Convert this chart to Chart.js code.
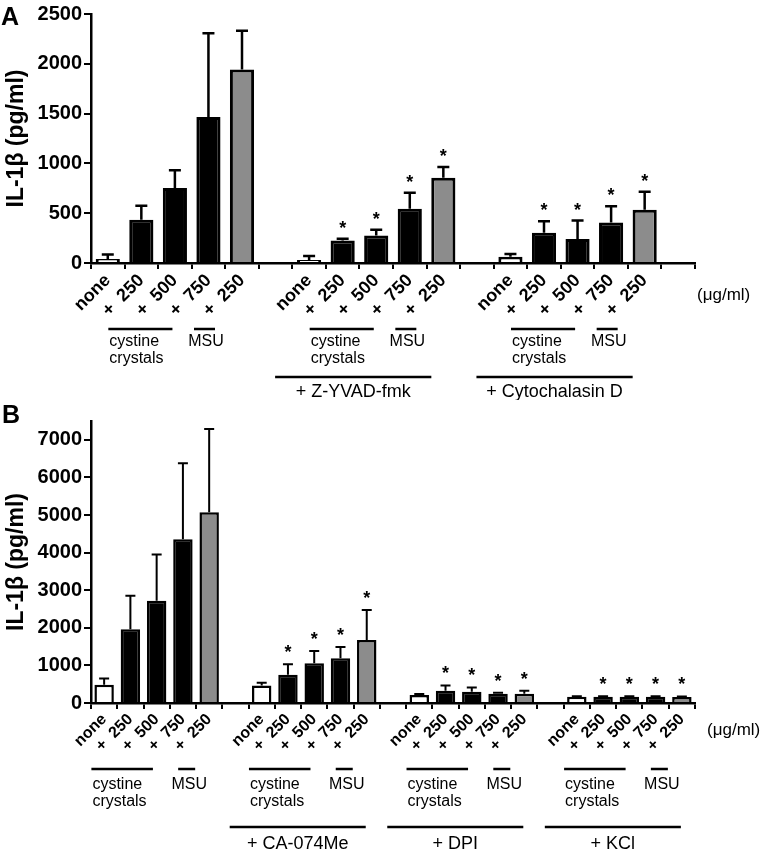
<!DOCTYPE html>
<html>
<head>
<meta charset="utf-8">
<script src="https://cdn.jsdelivr.net/npm/chart.js@4.4.0/dist/chart.umd.min.js"></script>
<style>
  body { margin: 0; background: #fff; }
  .panel { position: absolute; left: 0; width: 768px; }
  #wrapA { top: 0; height: 400px; }
  #wrapB { top: 400px; height: 450px; }
</style>
</head>
<body>
<div class="panel" id="wrapA"><canvas id="chartA" width="768" height="400"></canvas></div>
<div class="panel" id="wrapB"><canvas id="chartB" width="768" height="450"></canvas></div>
<script>
// Tick labels under each bar (a "+" rotated 45deg reads as "x")
const doseLabels = ['none', '+  250', '+  500', '+  750', '+  250'];
const unitLabel = '(\u03bcg/ml)';

// Panel A
const treatmentsA = ['', '+ Z-YVAD-fmk', '+ Cytochalasin D'];
const meanA = [40, 435, 752, 1465, 1944, null,
               30, 225, 277, 545, 855, null,
               62, 304, 240, 406, 535, null];
const semA  = [45, 140, 178, 842, 389, null,
               40, 18, 56, 161, 109, null,
               28, 116, 186, 165, 181, null];
const starA = [0, 0, 0, 0, 0, 0,
               0, 1, 1, 1, 1, 0,
               0, 1, 1, 1, 1, 0];
const yTicksA = [0, 500, 1000, 1500, 2000, 2500];

// Panel B
const treatmentsB = ['', '+ CA-074Me', '+ DPI', '+ KCl'];
const meanB = [485, 1960, 2720, 4354, 5070, null,
               467, 750, 1060, 1192, 1677, null,
               212, 326, 300, 246, 246, null,
               165, 165, 165, 165, 160];
const semB  = [167, 890, 1230, 2022, 2218, null,
               71, 283, 326, 300, 795, null,
               25, 141, 114, 27, 80, null,
               15, 15, 15, 15, 15];
const starB = [0, 0, 0, 0, 0, 0,
               0, 1, 1, 1, 1, 0,
               0, 1, 1, 1, 1, 0,
               0, 1, 1, 1, 1];
const yTicksB = [0, 1000, 2000, 3000, 4000, 5000, 6000, 7000];

const FONT = "'Liberation Sans', Arial, sans-serif";
const doseFills = ['#ffffff', '#000000', '#000000', '#000000', '#8c8c8c'];

function buildLabels(nGroups, trailingGap) {
    const out = [];
    for (let g = 0; g < nGroups; g++) {
        doseLabels.forEach(l => out.push(l));
        if (g < nGroups - 1 || trailingGap) out.push('');
    }
    return out;
}

// error bars, stars, brackets and text under the axis
function extrasPlugin(o) {
    return {
        id: 'extras',
        afterDatasetsDraw(chart) {
            const ctx = chart.ctx, x = chart.scales.x, y = chart.scales.y;
            ctx.save();
            ctx.strokeStyle = '#000';
            ctx.fillStyle = '#000';
            ctx.lineWidth = o.errWidth;
            o.mean.forEach((m, i) => {
                if (m == null) return;
                const px = x.getPixelForValue(i);
                const base = y.getPixelForValue(m);
                const top = y.getPixelForValue(m + o.sem[i]);
                ctx.beginPath();
                ctx.moveTo(px, base);
                ctx.lineTo(px, top);
                ctx.moveTo(px - o.cap, top);
                ctx.lineTo(px + o.cap, top);
                ctx.stroke();
                if (o.star[i]) {
                    ctx.font = 'bold 18px ' + FONT;
                    ctx.textAlign = 'center';
                    ctx.textBaseline = 'alphabetic';
                    ctx.fillText('*', px, top - o.starGap);
                }
            });
            ctx.restore();
        },
        afterDraw(chart) {
            const ctx = chart.ctx, x = chart.scales.x;
            const b = o.br;
            ctx.save();
            ctx.strokeStyle = '#000';
            ctx.fillStyle = '#000';
            ctx.textBaseline = 'alphabetic';
            o.treatments.forEach((name, g) => {
                const s = g * 6;
                const t = k => x.getPixelForValue(s + k);
                ctx.lineWidth = 2.5;
                ctx.beginPath();
                ctx.moveTo(t(1) + b.cysFrom, b.lineY);
                ctx.lineTo(t(3) + b.cysTo, b.lineY);
                ctx.moveTo(t(4) + b.msuFrom, b.lineY);
                ctx.lineTo(t(4) + b.msuTo, b.lineY);
                ctx.stroke();
                ctx.font = b.smallFont + 'px ' + FONT;
                ctx.textAlign = 'left';
                ctx.fillText('cystine', t(1) + b.cysText, b.text1Y);
                ctx.fillText('crystals', t(1) + b.cysText, b.text2Y);
                ctx.textAlign = 'center';
                ctx.fillText('MSU', t(4) + b.msuText, b.text1Y);
                if (name) {
                    const x0 = t(0) + b.grpFrom, x1 = t(4) + b.grpTo;
                    ctx.lineWidth = 2.5;
                    ctx.beginPath();
                    ctx.moveTo(x0, b.grpY);
                    ctx.lineTo(x1, b.grpY);
                    ctx.stroke();
                    ctx.font = b.grpFont + 'px ' + FONT;
                    ctx.fillText(name, (x0 + x1) / 2, b.grpTextY);
                }
            });
            ctx.textAlign = 'left';
            ctx.font = '17px ' + FONT;
            ctx.fillText(unitLabel, o.unit[0], o.unit[1]);
            ctx.font = 'bold 25px ' + FONT;
            ctx.fillText(o.tag, o.tagPos[0], o.tagPos[1]);
            ctx.restore();
        }
    };
}

function makeChart(id, c) {
    return new Chart(document.getElementById(id), {
        type: 'bar',
        data: {
            labels: c.labels,
            datasets: [{
                data: c.mean,
                backgroundColor: ctx => doseFills[ctx.dataIndex % 6] || '#000',
                borderColor: '#000',
                borderWidth: c.border,
                barPercentage: c.barPct,
                categoryPercentage: 1
            }]
        },
        options: {
            responsive: false,
            animation: false,
            layout: { padding: { top: c.padTop, left: 0, right: 768 - 695, bottom: 0 } },
            plugins: { legend: { display: false }, tooltip: { enabled: false } },
            scales: {
                x: {
                    offset: true,
                    grid: { drawOnChartArea: false, drawTicks: true, tickLength: 6, color: '#000', lineWidth: 2 },
                    border: { color: '#000', width: 2.5 },
                    ticks: {
                        color: '#000', autoSkip: false, minRotation: 45, maxRotation: 45, padding: 1,
                        font: { family: FONT, size: c.xFont, weight: 'bold' }
                    },
                    afterFit: s => { s.height = c.xHeight; }
                },
                y: {
                    min: 0,
                    max: c.max,
                    grid: { drawOnChartArea: false, drawTicks: true, tickLength: 7, color: '#000', lineWidth: 2 },
                    border: { color: '#000', width: 2.5 },
                    ticks: {
                        color: '#000', padding: 2,
                        font: { family: FONT, size: 20, weight: 'bold' },
                        callback: v => String(v)
                    },
                    title: {
                        display: true, text: 'IL-1\u03b2 (pg/ml)', color: '#000',
                        font: { family: FONT, size: 23, weight: 'bold' },
                        padding: { top: 3, bottom: 0 }
                    },
                    afterBuildTicks: s => { s.ticks = c.yTicks.map(v => ({ value: v })); },
                    afterFit: s => { s.width = 91; }
                }
            }
        },
        plugins: [extrasPlugin(c)]
    });
}

makeChart('chartA', {
    labels: buildLabels(3, true), mean: meanA, sem: semA, star: starA,
    yTicks: yTicksA, max: 2500, treatments: treatmentsA,
    padTop: 10, xHeight: 137, xFont: 18, border: 3, barPct: 0.72,
    errWidth: 2.5, cap: 6, starGap: 5,
    unit: [697, 300], tag: 'A', tagPos: [1, 25],
    br: { lineY: 329, cysFrom: -33, cysTo: -36, msuFrom: -48, msuTo: -27,
          cysText: -32, msuText: -36, text1Y: 346, text2Y: 363, smallFont: 16,
          grpFrom: -34, grpTo: -12, grpY: 377, grpTextY: 397, grpFont: 18 }
});

makeChart('chartB', {
    labels: buildLabels(4, false), mean: meanB, sem: semB, star: starB,
    yTicks: yTicksB, max: 7500, treatments: treatmentsB,
    padTop: 21, xHeight: 147, xFont: 16, border: 2.5, barPct: 0.74,
    errWidth: 2, cap: 5, starGap: 6,
    unit: [707, 335], tag: 'B', tagPos: [2, 23],
    br: { lineY: 369, cysFrom: -39, cysTo: -30, msuFrom: -31, msuTo: -14,
          cysText: -38, msuText: -20, text1Y: 389, text2Y: 406, smallFont: 16,
          grpFrom: -32, grpTo: -1, grpY: 427, grpTextY: 449, grpFont: 18 }
});
</script>
</body>
</html>
